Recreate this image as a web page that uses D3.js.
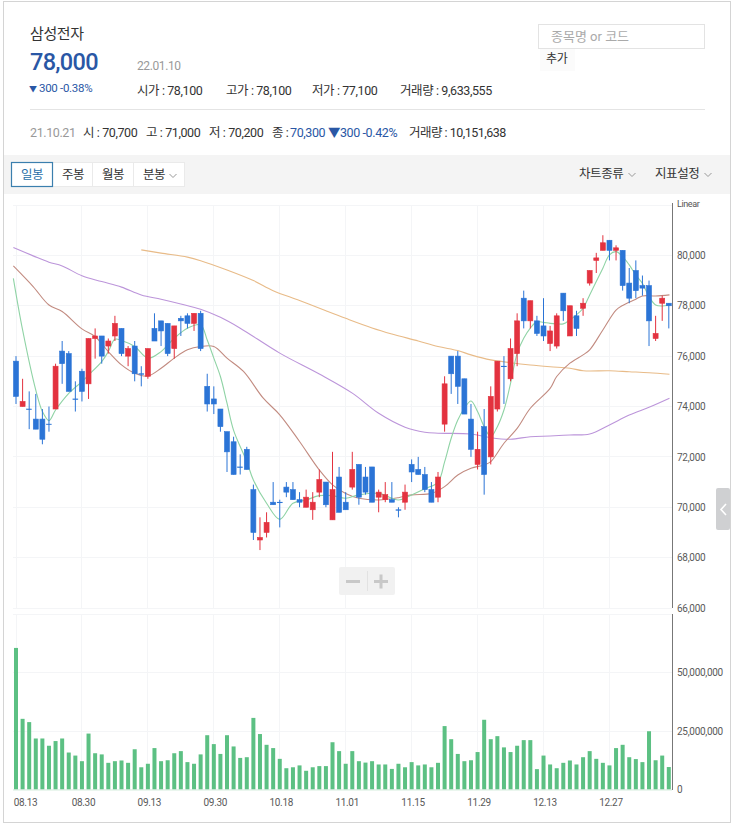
<!DOCTYPE html>
<html>
<head>
<meta charset="utf-8">
<script src="https://cdn.jsdelivr.net/npm/d3@7/dist/d3.min.js"></script>
<style>
    html, body { margin: 0; padding: 0; background: #fff; }
    svg { display: block; }
    text { font-family: Roboto, "Noto Sans CJK KR", sans-serif; }
    .kr { letter-spacing: -0.4px; }
    .grid line { stroke: #f4f5f7; shape-rendering: crispEdges; }
    .axis text { fill: #5a5a5a; font-size: 10px; letter-spacing: -0.3px; }
    .axis line, .axis path { display: none; }
</style>
</head>
<body>
<svg id="chart" width="737" height="829"></svg>
<script>
const open = [75800,74000,73900,73500,73500,73300,73900,76200,76100,74300,75400,74900,76700,76800,76400,76800,77100,76000,76400,75300,
    75200,77100,77400,77300,76300,77500,77600,77300,77700,74800,74300,73900,73000,72600,71600,72300,70700,68700,69000,70200,
    70200,70800,70700,70300,70000,69900,70600,71000,69500,71200,70200,70800,71700,71200,71600,70400,70300,70300,69900,70200,
    71700,71500,71300,70700,70400,73300,76000,76000,75100,73500,71700,73200,72000,73900,75600,75100,76100,78300,77400,77400,
    77200,76500,76400,78500,76800,77600,77900,78900,79800,80200,80600,80200,80200,78900,79400,78800,78800,76700,78100,78100];
const high = [76000,75100,74600,74500,73900,74000,75700,76600,76200,75000,75500,76700,77100,76800,76700,77600,77100,76400,76600,75600,
    76300,77700,77400,77300,77200,77600,77700,77700,77800,75300,74800,73900,73000,72800,72100,72400,70900,69600,69800,71000,
    70300,71000,71000,70600,70700,70600,71500,71000,72200,71600,70600,72200,71700,71600,71600,70700,71000,71000,70000,70900,
    71900,72000,71600,71000,71400,75200,76000,76200,75100,74100,73000,73900,74800,75800,76000,76700,77700,78600,78200,77600,
    78300,77200,77700,78500,78000,77800,78300,79400,80100,80800,80600,80400,80200,79500,79800,79200,79000,77600,78400,78100];
const low = [74100,74000,73100,73100,72500,73000,73900,74900,74600,73800,74200,74300,75900,75700,76100,76600,76000,75600,75000,74800,
    75100,76600,76400,76000,75900,76800,77100,77000,76200,73800,73700,73000,71400,71300,71300,71500,68700,68300,68800,70100,
    69200,70400,70300,70000,70000,69500,70400,70000,69500,69800,69900,70700,70100,70500,70200,69800,70200,70200,69600,69900,
    71000,71300,70600,70200,70200,73000,74500,74100,73700,72000,71500,70500,71700,73800,74100,75000,75600,77100,77100,76800,
    76600,76200,76300,77400,76800,76800,77600,78800,79300,80200,79800,79800,78600,78100,78300,78400,76400,76600,77400,77100];
const close = [74400,74200,73900,73100,72700,73300,75600,75700,74600,74300,74600,76700,76800,76000,76600,77300,76100,76300,75300,75300,
    76300,76600,77000,76100,77200,77400,77300,77700,76300,74100,74100,73200,72200,71300,71600,71500,69000,68800,69400,70100,
    70200,70600,70300,70200,70400,70200,71100,70100,70700,69800,69900,71500,70400,70600,70200,70600,70500,70200,69900,70600,
    71400,71300,70700,70200,71200,74900,75300,74800,73700,72300,72300,71300,74400,75800,75600,76300,77400,77400,78200,76900,
    76800,77000,77600,77800,78000,77100,78100,79400,79900,80500,80200,80300,78800,78300,78600,78700,77400,76900,78300,78000];
// volume in millions of shares
const volume = [60.5,30.2,28.8,21.8,21.8,18.7,20.7,21.8,15.8,14.5,12.1,23.9,15.5,15.0,11.4,12.1,12.4,11.4,17.2,9.5,
    11.0,17.7,12.1,12.5,15.5,16.4,11.7,11.0,15.0,23.2,19.4,15.2,23.2,18.4,13.5,13.8,30.6,23.7,19.1,17.7,
    13.1,9.1,9.5,10.3,8.0,9.5,10.0,10.0,20.2,16.4,11.0,16.4,12.1,11.5,12.1,10.7,10.7,8.8,11.0,9.5,
    11.7,10.3,10.7,9.5,11.4,27.1,21.5,15.2,12.1,12.5,16.0,29.8,21.5,22.8,18.0,16.0,18.7,21.1,21.1,8.7,
    14.5,10.7,9.1,11.4,12.4,10.7,13.8,16.4,13.1,11.4,10.3,17.7,19.1,13.8,13.0,11.7,24.9,12.5,14.5,9.6];

// moving averages, read at [candle index, price]
const ma5 = [[-0.4,79090],[1,77040],[3,74650],[4,73800],[5,73440],[6,73860],[8,74520],[10,74990],[11,75250],[13,75780],[14,76180],[15,76670],
    [16,76620],[18,76380],[20,75920],[22,76180],[24,76710],[26,77110],[28,77240],[29,76640],[30,75920],[31,75190],[32,74130],[33,73050],
    [35,71810],[36,71080],[38,70160],[40,69520],[42,70160],[44,70290],[46,70460],[48,70460],[50,70360],[52,70490],[55,70550],[58,70290],
    [60,70490],[62,70730],[64,71000],[65,71800],[66,72740],[67,73460],[68,73930],[69,74220],[70,73800],[71,73200],[72,72800],[73,73200],
    [74,73860],[75,74920],[76,76110],[77,76710],[78,77110],[79,77370],[80,77340],[81,77300],[82,77280],[83,77280],[84,77440],[85,77640],
    [86,77900],[87,78430],[88,78960],[89,79490],[90,80020],[91,80150],[92,79950],[93,79620],[94,79220],[95,78890],[96,78360],[97,78030],
    [98,77990],[99,78030]];
const ma20 = [[-0.4,79580],[2.6,78760],[5,78030],[7,77770],[10,77080],[12,76780],[14,76180],[16,75650],[18,75320],[20,75210],[22,75520],
    [24,75920],[26,76250],[28,76380],[30,76380],[32,75920],[34.5,75390],[37.5,74330],[40,73670],[43,72610],[46,71480],[48,70890],[50,70550],
    [52,70360],[55,70290],[58,70380],[60,70490],[63,70550],[65,70820],[67,71280],[69,71550],[71,71680],[72,71810],[74,72540],[76,73130],
    [78,73930],[81,74720],[82,75190],[84,75720],[86,76050],[87,76250],[89,77040],[91,77830],[92,78010],[94,78260],[95,78390],[97,78390],[99.1,78430]];
const ma60 = [[-0.4,80310],[2.6,79980],[5,79730],[7,79580],[10,79190],[13,78960],[16,78740],[19,78430],[22,78260],[25,78070],[28,77860],
    [31,77540],[34,77110],[40,76120],[46,75290],[51,74530],[55,73730],[59,73180],[62,72980],[64,72940],[69,72910],[72,72760],[75,72700],
    [78,72800],[81,72830],[84,72870],[87,72910],[90,73270],[93,73660],[96,73970],[99.1,74330]];
const ma120 = [[19,80220],[22,80090],[26,79930],[28,79790],[32,79420],[36,79000],[39,78600],[43,78210],[47,77800],[50,77500],[54,77120],
    [57,76880],[61,76600],[64,76380],[67,76220],[69,76050],[72,75850],[75,75740],[78,75650],[81,75580],[84,75520],[86,75420],[90,75420],
    [93,75380],[96,75340],[99.1,75280]];

const dateLabels = ['08.13','08.30','09.13','09.30','10.18','11.01','11.15','11.29','12.13','12.27'];
const dateIndexes = [0,10,20,30,40,50,60,70,80,90];
const priceTicks = [66000,68000,70000,72000,74000,76000,78000,80000];
const volumeTicks = [0,25,50];
const volumeGrid = [0,25,50,75];

const RED = '#e3323f', BLUE = '#2b74d6', NAVY = '#2a57a5', GREY = '#999', INK = '#333';

const svg = d3.select('#chart');
const x = d3.scaleLinear().domain([0, 99]).range([16, 668.8]);
const yPrice = d3.scaleLinear().domain([66000, 82000]).range([608, 205]);
const yVolume = d3.scaleLinear().domain([0, 75]).range([789.5, 614]);

// outer frame and toolbar band
svg.append('rect').attr('x', 3.5).attr('y', 1.5).attr('width', 727).attr('height', 821)
    .attr('fill', '#fff').attr('stroke', '#d4d4d4');
svg.append('rect').attr('x', 4).attr('y', 155).attr('width', 726).attr('height', 39).attr('fill', '#f4f4f4');

function label(px, py, str, size, color, weight) {
    return svg.append('text').attr('class', 'kr').attr('x', px).attr('y', py)
        .attr('font-size', size).attr('fill', color).attr('font-weight', weight || 400).text(str);
}

// header
label(30, 39, '삼성전자', 15, INK, 400);
label(30, 70, '78,000', 23.5, NAVY, 500).style('letter-spacing', '-0.7px');
label(137, 70, '22.01.10', 12, GREY);
label(29, 92, '▼', 8, NAVY);
label(39, 92, '300 -0.38%', 11.5, NAVY).style('letter-spacing', '-0.3px');
label(137, 95, '시가 : 78,100', 12.5, INK);
label(226, 95, '고가 : 78,100', 12.5, INK);
label(312, 95, '저가 : 77,100', 12.5, INK);
label(400, 95, '거래량 : 9,633,555', 12.5, INK);
svg.append('line').attr('x1', 30).attr('x2', 705).attr('y1', 109.5).attr('y2', 109.5).attr('stroke', '#e4e4e4');

label(30, 137, '21.10.21', 12.5, GREY);
label(83, 137, '시 : 70,700', 12.5, INK);
label(146, 137, '고 : 71,000', 12.5, INK);
label(209, 137, '저 : 70,200', 12.5, INK);
label(272, 137, '종 :', 12.5, INK);
label(290, 137, '70,300 ▼300 -0.42%', 12.5, NAVY);
label(409, 137, '거래량 : 10,151,638', 12.5, INK).style('letter-spacing', '-0.5px');

// search box
svg.append('rect').attr('x', 538.5).attr('y', 24.5).attr('width', 166).attr('height', 24)
    .attr('fill', '#fff').attr('stroke', '#e3e3e3');
label(551, 41, '종목명 or 코드', 13, '#aaa').style('letter-spacing', '0');
svg.append('rect').attr('x', 540).attr('y', 49).attr('width', 35).attr('height', 22).attr('fill', '#fbfbfb');
label(546, 63, '추가', 12, INK);

// period buttons
const buttons = [['일봉', 11, 41], ['주봉', 52, 40], ['월봉', 92, 41], ['분봉', 133, 51]];
buttons.forEach(([name, bx, bw], i) => {
    svg.append('rect').attr('x', bx + 0.5).attr('y', 162.5).attr('width', bw).attr('height', 24)
        .attr('fill', '#fff').attr('stroke', '#eaeaea');
    label(bx + 10, 179, name, 12.5, i === 0 ? '#2a6fa8' : INK);
});
svg.append('rect').attr('x', 11.5).attr('y', 162.5).attr('width', 41).attr('height', 24)
    .attr('fill', 'none').attr('stroke', '#3b7fae').attr('stroke-width', 1.2);
function caret(cx, cy, stroke) {
    svg.append('path').attr('d', `M${cx - 3.5},${cy - 2}L${cx},${cy + 1.5}L${cx + 3.5},${cy - 2}`)
        .attr('fill', 'none').attr('stroke', stroke);
}
caret(173, 176, '#999');
label(579, 178, '차트종류', 12.5, INK);
caret(632, 175, '#999');
label(655, 178, '지표설정', 12.5, INK);
caret(708, 175, '#999');

// grid
const grid = svg.append('g').attr('class', 'grid');
grid.selectAll('.v1').data(dateIndexes).join('line')
    .attr('x1', d => x(d)).attr('x2', d => x(d)).attr('y1', 205).attr('y2', 608);
grid.selectAll('.v2').data(dateIndexes).join('line')
    .attr('x1', d => x(d)).attr('x2', d => x(d)).attr('y1', 614).attr('y2', 790);
grid.selectAll('.h1').data(priceTicks.concat([82000])).join('line')
    .attr('x1', 13).attr('x2', 672).attr('y1', d => yPrice(d)).attr('y2', d => yPrice(d));
grid.selectAll('.h2').data(volumeGrid).join('line')
    .attr('x1', 13).attr('x2', 672).attr('y1', d => yVolume(d)).attr('y2', d => yVolume(d));

// moving average lines
const maLine = d3.line().x(d => x(d[0])).y(d => yPrice(d[1])).curve(d3.curveCatmullRom);
[[ma120, '#e8bb88'], [ma60, '#bc95da'], [ma20, '#c28b80'], [ma5, '#8fd3a5']].forEach(([rows, color]) => {
    svg.append('path').datum(rows).attr('d', maLine)
        .attr('fill', 'none').attr('stroke', color).attr('stroke-width', 1.1);
});

// candles
const candles = svg.append('g').selectAll('g').data(d3.range(open.length)).join('g')
    .attr('fill', i => close[i] > open[i] ? RED : BLUE)
    .attr('stroke', i => close[i] > open[i] ? RED : BLUE);
candles.append('line')
    .attr('x1', i => x(i)).attr('x2', i => x(i))
    .attr('y1', i => yPrice(high[i])).attr('y2', i => yPrice(low[i]));
candles.append('rect')
    .attr('x', i => x(i) - 2.5).attr('width', 5)
    .attr('y', i => yPrice(Math.max(open[i], close[i])))
    .attr('height', i => Math.max(0.5, Math.abs(yPrice(open[i]) - yPrice(close[i]))))
    .attr('stroke-width', 0.6);

// volume bars
svg.append('g').selectAll('rect').data(volume).join('rect')
    .attr('x', (d, i) => x(i) - 2)
    .attr('width', 4)
    .attr('y', d => yVolume(d))
    .attr('height', d => yVolume(0) - yVolume(d))
    .attr('fill', '#5cc083');
svg.append('line').attr('x1', 13).attr('x2', 672).attr('y1', 790).attr('y2', 790)
    .attr('stroke', '#d5eedd');

// axes
svg.append('line').attr('x1', 672.5).attr('x2', 672.5).attr('y1', 203).attr('y2', 608).attr('stroke', '#777');
svg.append('line').attr('x1', 672.5).attr('x2', 672.5).attr('y1', 614).attr('y2', 790).attr('stroke', '#777');
svg.append('g').attr('class', 'axis').attr('transform', 'translate(672,0)')
    .call(d3.axisRight(yPrice).tickValues(priceTicks).tickFormat(d3.format(',')).tickSize(0).tickPadding(5));
svg.append('g').attr('class', 'axis').attr('transform', 'translate(672,0)')
    .call(d3.axisRight(yVolume).tickValues(volumeTicks).tickFormat(d => d3.format(',')(d * 1000000)).tickSize(0).tickPadding(5));
// first date label is pushed right so it stays inside the frame
svg.append('g').attr('class', 'axis').attr('transform', 'translate(0,790)')
    .call(d3.axisBottom(x).tickValues(dateIndexes).tickFormat((d, i) => dateLabels[i]).tickSize(0).tickPadding(9))
    .selectAll('text').attr('dx', (d, i) => i === 0 ? 9 : 1);
label(677, 207, 'Linear', 9, '#555');

// zoom buttons and side handle
svg.append('rect').attr('x', 339).attr('y', 567).attr('width', 56).attr('height', 28).attr('rx', 2).attr('fill', '#f1f1f1');
svg.append('line').attr('x1', 367.5).attr('x2', 367.5).attr('y1', 571).attr('y2', 591).attr('stroke', '#e2e2e2');
svg.append('path').attr('d', 'M346,581.5H360M374,581.5H388M381,574.5V588.5')
    .attr('fill', 'none').attr('stroke', '#c8c8c8').attr('stroke-width', 3);
svg.append('rect').attr('x', 716).attr('y', 488).attr('width', 14).attr('height', 42).attr('rx', 2).attr('fill', '#cfd0d2');
svg.append('path').attr('d', 'M726,504L721,509.5L726,515')
    .attr('fill', 'none').attr('stroke', '#fff').attr('stroke-width', 1.6);
</script>
</body>
</html>
